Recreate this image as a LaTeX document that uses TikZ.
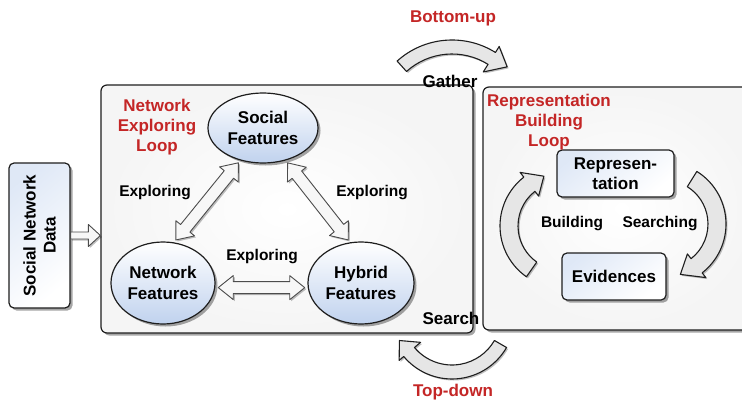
\documentclass[tikz,border=0pt]{standalone}
\usepackage{fontspec}
\setmainfont{Liberation Sans}
\usetikzlibrary{shadows,calc,shapes.geometric}
\definecolor{myred}{RGB}{196,38,38}
\definecolor{ellblue}{RGB}{192,210,238}
\definecolor{arrgray}{RGB}{230,230,230}
\definecolor{edge}{RGB}{30,30,30}
\tikzset{
 shad/.style={drop shadow={shadow xshift=2.5pt, shadow yshift=-2.5pt, opacity=0.35, fill=black}},
 lshad/.style={drop shadow={shadow xshift=1.5pt, shadow yshift=-1.5pt, opacity=0.25, fill=black}},
 panel/.style={draw=edge, line width=1.2pt, rounded corners=6pt, shad, inner color=white, outer color=gray!8},
 ellnode/.style={ellipse, draw=edge, line width=1.2pt, top color=white, bottom color=ellblue, shad, align=center, inner sep=0pt, font=\bfseries\fontsize{17}{21}\selectfont},
 rbox/.style={draw=edge, line width=1.2pt, rounded corners=5pt, shad, top color=ellblue!50, bottom color=white, shading angle=40, align=center, inner sep=0pt, font=\bfseries\fontsize{17}{20}\selectfont},
 lbl/.style={font=\bfseries\fontsize{17}{20}\selectfont, align=center, inner sep=1pt},
 redlbl/.style={lbl, text=myred},
 smlbl/.style={font=\bfseries\fontsize{15.5}{18}\selectfont, inner sep=1pt},
 hollow/.style={draw=black!70, line width=0.9pt, fill=gray!6, lshad, line join=round},
 curvearrow/.style={draw=edge, line width=1.1pt, fill=arrgray, lshad, line join=round}
}
\newcommand\carrow[9]{%
 \draw[curvearrow, shift={(#1)}] (#4:#3) arc[start angle=#4, end angle=#5, radius=#3] -- (#5:#8) -- (#6:#7) -- (#5:#9) -- (#5:#2) arc[start angle=#5, end angle=#4, radius=#2] -- cycle;}
\newcommand\dblarr[2]{%
 \draw[hollow] let \p1=(#1), \p2=(#2), \n1={atan2(\y2-\y1,\x2-\x1)} in
 ($(\p1)+(\n1:3)$) -- ($(\p1)+(\n1:18)+({\n1+90}:12)$) -- ($(\p1)+(\n1:18)+({\n1+90}:6)$)
 -- ($(\p2)+(\n1:-18)+({\n1+90}:6)$) -- ($(\p2)+(\n1:-18)+({\n1+90}:12)$) -- ($(\p2)+(\n1:-3)$)
 -- ($(\p2)+(\n1:-18)+({\n1-90}:12)$) -- ($(\p2)+(\n1:-18)+({\n1-90}:6)$)
 -- ($(\p1)+(\n1:18)+({\n1-90}:6)$) -- ($(\p1)+(\n1:18)+({\n1-90}:12)$) -- cycle;}
\begin{document}
\begin{tikzpicture}[x=1pt,y=1pt]
\useasboundingbox (0,0) rectangle (742,400);
\clip (0,0) rectangle (742,400);
\fill[white] (0,0) rectangle (742,400);

% panels
\node[panel, minimum width=372pt, minimum height=248pt] (big) at (287,191) {};
\node[panel, minimum width=277pt, minimum height=243pt] (rpanel) at (621.5,191.5) {};

% input box
\node[rbox, rotate=90, minimum width=145pt, minimum height=61pt] (snd) at (39.5,164.5) {Social Network\\Data};

% feature ellipses
\node[ellnode, minimum width=110pt, minimum height=70pt] (soc) at (263,272) {Social\\Features};
\node[ellnode, minimum width=104pt, minimum height=82pt] (net) at (163,117) {Network\\Features};
\node[ellnode, minimum width=106pt, minimum height=82pt] (hyb) at (361,117) {Hybrid\\Features};

% representation boxes
\node[rbox, minimum width=117pt, minimum height=47pt] (rep) at (615.5,226.5) {Represen-\\tation};
\node[rbox, minimum width=104pt, minimum height=47pt] (evi) at (614,123.5) {Evidences};

% input arrow
\draw[hollow] let \p1=(snd.south), \p2=(snd.south -| big.west) in
 (\x1,\y1+3.5) -- (\x2-12,\y1+3.5) -- (\x2-12,\y1+11) -- (\x2,\y1) -- (\x2-12,\y1-11) -- (\x2-12,\y1-3.5) -- (\x1,\y1-3.5) -- cycle;

% exploring arrows
\dblarr{net.75}{soc.235}
\dblarr{soc.305}{hyb.105}
\dblarr{net.355}{hyb.185}

% curved arrows
\carrow{452,278}{68}{82}{132}{58}{45}{78}{89}{59}
\carrow{452,84}{49}{63}{-30}{-140}{-155}{58}{69}{41}
\carrow{562,174}{44}{62}{235}{128}{110}{53}{68}{38}
\carrow{664,176}{44}{62}{58}{-52}{-72}{53}{68}{38}

% labels
\node[redlbl] (nel) at (157,273) {Network\\Exploring\\Loop};
\node[redlbl] (rbl) at (549,278) {Representation\\Building\\Loop};
\node[smlbl] (ex1) at (155,207) {Exploring};
\node[smlbl] (ex2) at (372,207) {Exploring};
\node[smlbl] (ex3) at (262,143) {Exploring};
\node[smlbl] (bld) at (572,176) {Building};
\node[smlbl] (srch) at (660,176) {Searching};
\node[redlbl] (bu) at (453,382) {Bottom-up};
\node[lbl] (gat) at (450,319) {Gather};
\node[lbl] (sea) at (451,82) {Search};
\node[redlbl] (td) at (453,8) {Top-down};
\end{tikzpicture}
\end{document}
